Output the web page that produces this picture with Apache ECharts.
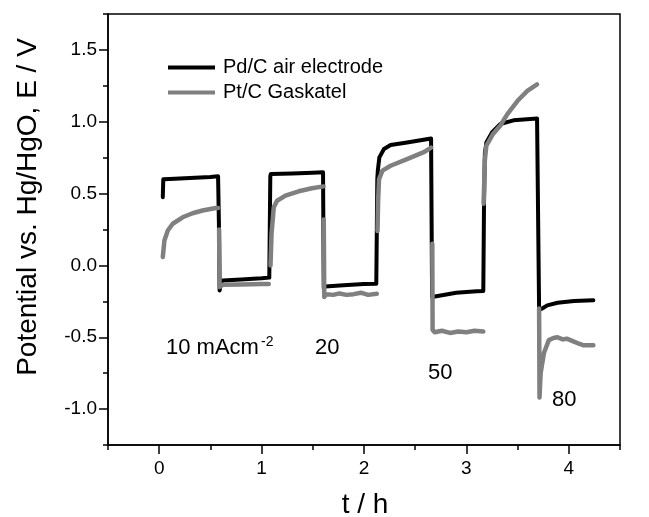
<!DOCTYPE html>
<html>
<head>
<meta charset="utf-8">
<script src="https://cdn.jsdelivr.net/npm/echarts@6/dist/echarts.min.js"></script>
<style>
html,body{margin:0;padding:0;background:#fff;}
#chart{width:649px;height:517px;}
</style>
</head>
<body>
<div id="chart"></div>
<script>
// ---- data ----
var seriesNames = ['Pd/C air electrode', 'Pt/C Gaskatel'];

var pdTime = [0.035,0.04,0.10,0.20,0.30,0.40,0.50,0.575,0.583,0.59,0.60,0.62,0.80,1.00,1.075,
  1.085,1.09,1.30,1.50,1.60,1.607,1.62,1.80,2.00,2.12,
  2.13,2.135,2.15,2.195,2.26,2.42,2.655,2.665,2.68,2.90,3.10,3.165,
  3.172,3.18,3.195,3.25,3.33,3.46,3.69,3.71,3.74,3.79,3.89,4.05,4.24];
var pdPotential = [0.475,0.60,0.602,0.605,0.608,0.612,0.615,0.62,0.30,-0.174,-0.12,-0.105,-0.098,-0.09,-0.085,
  0.62,0.637,0.64,0.645,0.648,-0.16,-0.146,-0.138,-0.13,-0.127,
  0.60,0.66,0.752,0.81,0.838,0.856,0.884,-0.22,-0.208,-0.19,-0.18,-0.178,
  0.43,0.776,0.856,0.926,0.984,1.01,1.023,-0.31,-0.30,-0.278,-0.26,-0.248,-0.243];

var ptTime = [0.035,0.051,0.084,0.132,0.229,0.326,0.423,0.553,0.575,0.58,0.585,0.59,0.62,0.80,1.00,1.07,
  1.08,1.087,1.097,1.119,1.151,1.233,1.362,1.491,1.605,
  1.606,1.607,1.612,1.63,1.70,1.76,1.83,1.90,1.97,2.04,2.125,
  2.128,2.132,2.138,2.147,2.18,2.26,2.42,2.59,2.655,
  2.66,2.667,2.670,2.69,2.76,2.84,2.92,3.00,3.08,3.165,
  3.166,3.168,3.18,3.195,3.26,3.33,3.40,3.50,3.595,3.69,
  3.70,3.710,3.714,3.725,3.757,3.805,3.85,3.89,3.94,3.98,4.05,4.10,4.145,4.24];
var ptPotential = [0.058,0.174,0.243,0.29,0.335,0.363,0.382,0.40,0.40,null,0.25,-0.15,-0.135,-0.132,-0.13,-0.13,
  null,0.0,0.22,0.405,0.45,0.486,0.516,0.537,0.55,
  null,0.32,-0.22,-0.20,-0.205,-0.195,-0.205,-0.20,-0.19,-0.205,-0.197,
  null,0.24,0.45,0.60,0.66,0.694,0.74,0.79,0.82,
  null,0.15,-0.45,-0.465,-0.455,-0.47,-0.46,-0.465,-0.455,-0.46,
  null,0.43,0.73,0.833,0.915,0.972,1.053,1.146,1.215,1.26,
  null,-0.30,-0.92,-0.75,-0.61,-0.52,-0.505,-0.50,-0.515,-0.51,-0.53,-0.545,-0.556,-0.556];

var xMajorTicks = [0, 1, 2, 3, 4];
var yMajorTicks = [-1.0, -0.5, 0.0, 0.5, 1.0, 1.5];

function pairs(t, v) {
  var out = [];
  for (var i = 0; i < t.length; i++) out.push([t[i], v[i] === null ? '-' : v[i]]);
  return out;
}

var FONT = "'Liberation Sans', Arial, Helvetica, sans-serif";
var chart = echarts.init(document.getElementById('chart'), null, {renderer: 'canvas'});

var option = {
  backgroundColor: '#fff',
  animation: false,
  grid: {left: 108, right: 29, top: 14, bottom: 72, show: true, borderColor: '#000', borderWidth: 1.5, backgroundColor: 'transparent'},
  legend: {
    data: seriesNames,
    left: 168, top: 57.5, orient: 'vertical', padding: 0,
    itemWidth: 47, itemHeight: 4, itemGap: 5, icon: 'rect',
    textStyle: {fontFamily: FONT, fontSize: 20, color: '#000', padding: [0, 0, 0, 3]}
  },
  xAxis: [
    {type: 'value', min: -0.5, max: 4.5, interval: 0.5, position: 'bottom',
     axisLine: {show: true, onZero: false, lineStyle: {color: '#000', width: 1.5}},
     axisTick: {show: true, inside: false, length: 5, lineStyle: {color: '#000', width: 1.5}},
     axisLabel: {show: false}, splitLine: {show: false}},
    {type: 'value', min: -0.5, max: 4.5, position: 'bottom',
     axisLine: {show: false, onZero: false},
     axisTick: {show: true, inside: false, length: 9, customValues: xMajorTicks, lineStyle: {color: '#000', width: 1.5}},
     axisLabel: {show: true, customValues: xMajorTicks, fontFamily: FONT, fontSize: 19, color: '#000', margin: 14},
     splitLine: {show: false}}
  ],
  yAxis: [
    {type: 'value', min: -1.25, max: 1.75, interval: 0.25, position: 'left',
     axisLine: {show: true, onZero: false, lineStyle: {color: '#000', width: 1.5}},
     axisTick: {show: true, inside: false, length: 5, lineStyle: {color: '#000', width: 1.5}},
     axisLabel: {show: false}, splitLine: {show: false}},
    {type: 'value', min: -1.25, max: 1.75, position: 'left',
     axisLine: {show: false, onZero: false},
     axisTick: {show: true, inside: false, length: 9, customValues: yMajorTicks, lineStyle: {color: '#000', width: 1.5}},
     axisLabel: {show: true, customValues: yMajorTicks, fontFamily: FONT, fontSize: 19, color: '#000', margin: 11,
       formatter: function (v) { return v.toFixed(1); }},
     splitLine: {show: false}}
  ],
  series: [
    {name: seriesNames[0], type: 'line', xAxisIndex: 0, yAxisIndex: 0, data: pairs(pdTime, pdPotential),
     showSymbol: false, symbol: 'none', color: '#000', z: 2,
     lineStyle: {color: '#000', width: 4, cap: 'round', join: 'round'}},
    {name: seriesNames[1], type: 'line', xAxisIndex: 0, yAxisIndex: 0, data: pairs(ptTime, ptPotential),
     showSymbol: false, symbol: 'none', color: '#808080', z: 3, connectNulls: false,
     lineStyle: {color: '#808080', width: 4.5, cap: 'round', join: 'round'}}
  ],
  graphic: [
    {type: 'text', x: 28, y: 207, rotation: Math.PI / 2,
     style: {text: 'Potential vs. Hg/HgO, E / V', font: '28px ' + FONT, fill: '#000', align: 'center', verticalAlign: 'middle'}},
    {type: 'text', x: 365, y: 505,
     style: {text: 't / h', font: '28px ' + FONT, fill: '#000', align: 'center', verticalAlign: 'middle'}},
    {type: 'text', x: 166, y: 348,
     style: {text: '10 mAcm', font: '22px ' + FONT, fill: '#000', align: 'left', verticalAlign: 'middle'}},
    {type: 'text', x: 261, y: 342,
     style: {text: '-2', font: '14px ' + FONT, fill: '#000', align: 'left', verticalAlign: 'middle'}},
    {type: 'text', x: 315, y: 348,
     style: {text: '20', font: '22px ' + FONT, fill: '#000', align: 'left', verticalAlign: 'middle'}},
    {type: 'text', x: 428, y: 373,
     style: {text: '50', font: '22px ' + FONT, fill: '#000', align: 'left', verticalAlign: 'middle'}},
    {type: 'text', x: 552, y: 400,
     style: {text: '80', font: '22px ' + FONT, fill: '#000', align: 'left', verticalAlign: 'middle'}}
  ]
};
chart.setOption(option);
</script>
</body>
</html>
